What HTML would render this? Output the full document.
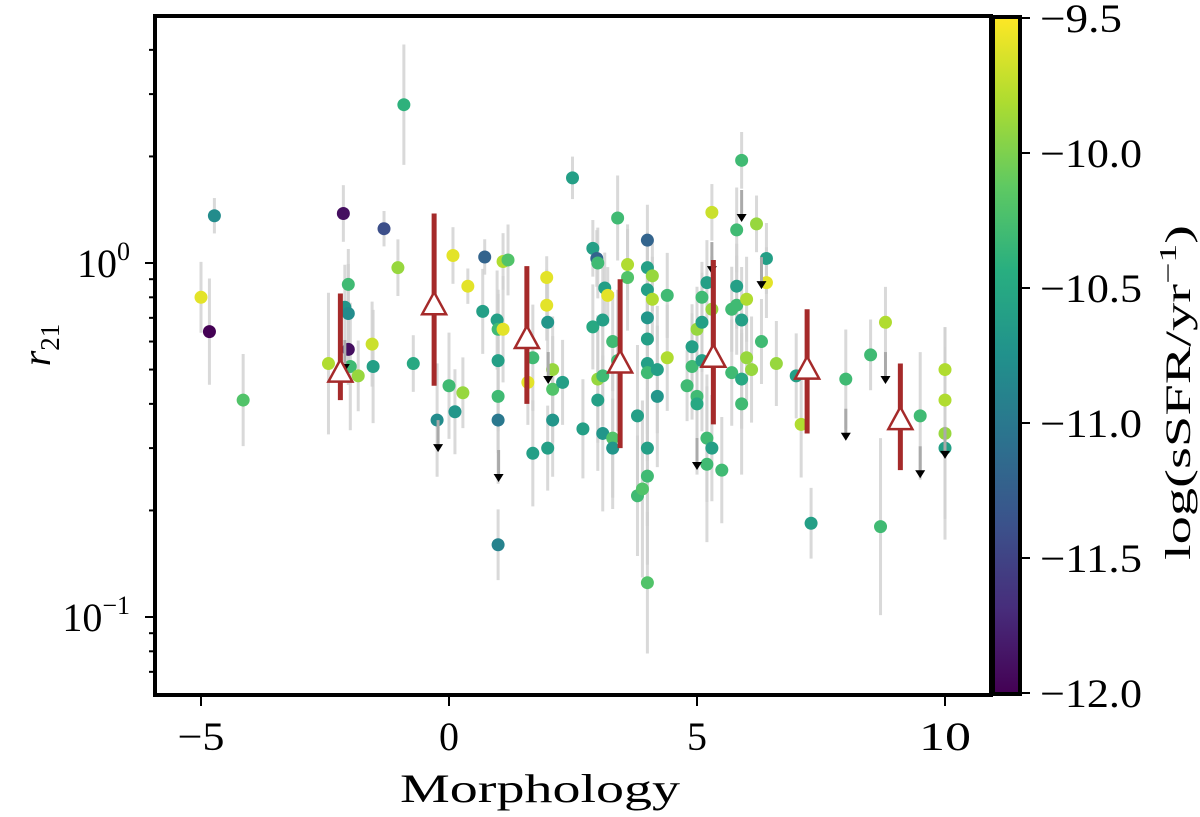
<!DOCTYPE html>
<html><head><meta charset="utf-8"><style>
html,body{margin:0;padding:0;background:#fff;}
svg text{font-family:"Liberation Serif","DejaVu Serif",serif;fill:#000;}
</style></head><body>
<svg id="chart" width="1200" height="812" viewBox="0 0 1200 812" xmlns="http://www.w3.org/2000/svg">
<defs>
<linearGradient id="vir" x1="0" y1="1" x2="0" y2="0">
<stop offset="0" stop-color="#440154"/><stop offset="0.125" stop-color="#472d7b"/><stop offset="0.25" stop-color="#3b528b"/><stop offset="0.375" stop-color="#2c728e"/><stop offset="0.5" stop-color="#21918c"/><stop offset="0.625" stop-color="#28ae80"/><stop offset="0.75" stop-color="#5ec962"/><stop offset="0.875" stop-color="#addc30"/><stop offset="1" stop-color="#fde725"/>
</linearGradient>
</defs>
<g id="errs"></g>
<g id="pts"></g>
<g id="lims"></g>
<g id="bins"></g>
<rect x="155" y="16" width="836" height="679" fill="none" stroke="#000" stroke-width="4"/>
<g id="axes"></g>
<rect x="993" y="18" width="27" height="675" fill="url(#vir)"/>
<rect x="993" y="17" width="27" height="677" fill="none" stroke="#000" stroke-width="4"/>
<g id="cbar"></g>
<text x="400" y="802" font-size="40" textLength="280" lengthAdjust="spacingAndGlyphs">Morphology</text>
<text transform="translate(50,345) rotate(-90)" font-size="40" text-anchor="middle"><tspan font-style="italic">r</tspan><tspan font-size="27" dy="9">21</tspan></text>
<text transform="translate(1190,560) rotate(-90)" font-size="36" textLength="335" lengthAdjust="spacingAndGlyphs">log(sSFR/yr<tspan font-size="24" dy="-14">−1</tspan><tspan dy="14">)</tspan></text>
</svg>
<script>
const xs=[-5.0,-4.83,-4.73,-4.15,-2.43,-2.13,-2.1,-2.03,-2.03,-2.03,-1.99,-1.83,-1.55,-1.53,-1.31,-1.03,-0.91,-0.72,-0.24,0,0.08,0.12,0.28,0.38,0.68,0.72,0.97,0.99,0.99,0.99,0.99,0.99,1.09,1.19,1.09,1.59,1.69,1.69,1.97,1.97,1.99,1.99,2.09,2.09,2.09,2.29,2.49,2.7,2.9,2.98,2.9,3.0,3.0,3.0,3.1,3.1,3.14,3.2,3.1,3.3,3.3,3.3,3.4,3.4,3.6,3.6,3.8,3.8,3.9,4.0,4.0,4.0,4.0,4.0,4.0,4.0,4.0,4.0,4.0,4.1,4.1,4.2,4.2,4.4,4.4,4.8,4.9,4.9,5.0,5.0,5.0,5.1,5.1,5.1,5.2,5.2,5.2,5.3,5.3,5.3,5.5,5.7,5.7,5.8,5.8,5.8,5.9,5.9,5.9,5.9,6.0,6.0,6.1,6.2,6.3,6.4,6.4,6.6,7.0,7.1,7.3,8.0,8.5,8.7,8.8,9.5,10.0,10.0,10.0,10.0];
const r21=[0.80,0.64,1.36,0.41,0.52,1.38,0.75,0.87,0.72,0.57,0.51,0.48,0.59,0.51,1.25,0.97,2.8,0.52,0.36,0.45,1.05,0.38,0.43,0.86,0.73,1.04,0.69,0.65,0.53,0.42,0.36,0.16,1.01,1.02,0.65,0.46,0.29,0.54,0.91,0.76,0.30,0.68,0.50,0.44,0.36,0.46,1.74,0.34,1.1,1.03,0.66,1.0,0.41,0.47,0.33,0.48,0.85,0.81,0.69,0.6,0.32,0.30,1.34,0.53,0.99,0.91,0.37,0.22,0.23,1.16,0.97,0.84,0.70,0.61,0.52,0.49,0.30,0.25,0.125,0.92,0.79,0.50,0.42,0.81,0.54,0.45,0.58,0.51,0.65,0.42,0.40,0.68,0.80,0.53,0.88,0.32,0.27,1.39,0.30,0.74,0.26,0.49,0.74,1.24,0.86,0.76,1.95,0.69,0.47,0.40,0.54,0.79,0.50,1.29,0.60,1.03,0.88,0.52,0.48,0.35,0.184,0.47,0.55,0.18,0.68,0.37,0.50,0.41,0.33,0.30];
const ssfr=[-9.6,-12,-10.8,-10.2,-9.8,-11.9,-10.7,-10.3,-10.8,-11.9,-10.3,-9.9,-9.7,-10.6,-11.4,-9.9,-10.4,-10.5,-10.8,-10.3,-9.6,-10.7,-9.9,-9.6,-10.6,-11.2,-10.6,-10.3,-10.6,-10.3,-11.0,-10.9,-9.8,-10.2,-9.6,-9.6,-10.6,-10.3,-9.6,-9.6,-10.6,-10.7,-9.9,-10.2,-10.7,-10.6,-10.6,-10.6,-10.6,-11.2,-10.5,-10.3,-10.6,-9.9,-10.7,-10.3,-10.6,-9.6,-10.6,-10.3,-10.2,-10.7,-10.3,-10.3,-9.8,-10.2,-10.6,-10.3,-10.2,-11.2,-10.6,-10.6,-10.7,-10.6,-10.6,-10.3,-10.6,-10.3,-10.2,-9.9,-9.8,-10.6,-10.7,-10.3,-9.8,-10.3,-10.6,-10.3,-9.9,-10.3,-10.5,-10.6,-10.3,-10.6,-10.6,-10.3,-10.3,-9.7,-10.6,-9.9,-10.3,-10.3,-10.3,-10.3,-10.6,-10.3,-10.3,-10.6,-10.5,-10.3,-9.9,-9.8,-9.9,-9.9,-10.3,-10.6,-9.6,-9.9,-10.6,-9.8,-10.6,-10.3,-10.3,-10.3,-9.8,-10.3,-9.8,-9.8,-9.9,-10.6];
const errDex=[0.1,0.15,0.05,0.13,0.2,0.08,0.12,0.1,0.14,0.1,0.18,0.1,0.12,0.16,0.05,0.08,0.17,0.08,0.16,0.15,0.08,0.12,0.1,0.05,0.12,0.05,0.14,0.1,0.2,0.16,0.18,0.1,0.08,0.1,0.15,0.12,0.15,0.15,0.06,0.1,0.12,0.14,0.15,0.15,0.16,0.12,0.06,0.14,0.08,0.08,0.12,0.1,0.2,0.18,0.22,0.14,0.1,0.08,0.15,0.14,0.2,0.14,0.12,0.2,0.1,0.15,0.2,0.17,0.25,0.1,0.1,0.12,0.15,0.12,0.2,0.25,0.22,0.25,0.2,0.1,0.12,0.18,0.2,0.12,0.15,0.1,0.12,0.15,0.12,0.17,0.2,0.14,0.1,0.2,0.12,0.18,0.22,0.08,0.15,0.15,0.15,0.15,0.12,0.12,0.12,0.14,0.08,0.15,0.14,0.2,0.12,0.12,0.15,0.08,0.12,0.1,0.1,0.12,0.12,0.15,0.1,0.14,0.1,0.25,0.1,0.18,0.12,0.15,0.3,0.2];
const limX=[-2.1,-0.22,1.0,2.0,5.0,5.3,5.9,6.3,8.0,8.8,9.5,10.0];
const limR=[0.505,0.30,0.247,0.467,0.267,0.955,1.34,0.866,0.323,0.467,0.253,0.287];
const binX=[-2.19,-0.3,1.57,3.45,5.33,7.22,9.1];
const binR=[0.49,0.76,0.61,0.52,0.54,0.50,0.36];
const binHi=[0.82,1.38,0.98,0.90,1.02,0.74,0.52];
const binLo=[0.41,0.45,0.40,0.30,0.35,0.33,0.26];
const xTicks=[-5,0,5,10];
const xTickLabels=["−5","0","5","10"];
const cbTicks=[-9.5,-10,-10.5,-11,-11.5,-12];
const cbTickLabels=["−9.5","−10.0","−10.5","−11.0","−11.5","−12.0"];

const NS="http://www.w3.org/2000/svg";
const X=v=>449+49.6*v;
const Y=r=>263-354*Math.log10(r);
const CB=v=>18+(-9.5-v)/2.5*675;
const vir=[[68,1,84],[71,45,123],[59,82,139],[44,114,142],[33,145,140],[40,174,128],[94,201,98],[173,220,48],[253,231,37]];
function col(s){let t=Math.max(0,Math.min(1,(s+12)/2.5))*8;let i=Math.min(7,Math.floor(t)),f=t-i;const a=vir[i],b=vir[i+1];return `rgb(${a.map((c,k)=>Math.round(c+(b[k]-c)*f)).join(',')})`;}
function mk(tag,attrs,parent){const e=document.createElementNS(NS,tag);for(const k in attrs)e.setAttribute(k,attrs[k]);parent.appendChild(e);return e;}
const gE=document.getElementById('errs'),gP=document.getElementById('pts'),gL=document.getElementById('lims'),gB=document.getElementById('bins'),gA=document.getElementById('axes'),gC=document.getElementById('cbar');
xs.forEach((x,i)=>{
  const d=errDex[i],r=r21[i];
  const l=mk('line',{x1:X(x),x2:X(x),y1:Y(r*Math.pow(10,d)),y2:Y(r/Math.pow(10,d)),stroke:'#d0d0d0','stroke-width':3,'stroke-opacity':0.8},gE);
  
  
});
xs.forEach((x,i)=>{
  const c=mk('circle',{cx:X(x),cy:Y(r21[i]),r:6.5,fill:col(ssfr[i])},gP);
  
  
});
limX.forEach((x,i)=>{
  const cx=X(x),cy=Y(limR[i]);
  mk('line',{x1:cx,x2:cx,y1:cy-28,y2:cy,stroke:'#aaa','stroke-width':3},gL);
  const p=mk('polygon',{points:`${cx-5},${cy-4} ${cx+5},${cy-4} ${cx},${cy+4}`,fill:'#000'},gL);
  
  
});
binX.forEach((x,i)=>{
  const cx=X(x),cy=Y(binR[i]);
  const l=mk('line',{x1:cx,x2:cx,y1:Y(binHi[i]),y2:Y(binLo[i]),stroke:'#a52a2a','stroke-width':5},gB);
  
  
  const p=mk('polygon',{points:`${cx},${cy-13} ${cx+12},${cy+9} ${cx-12},${cy+9}`,fill:'#fff',stroke:'#a52a2a','stroke-width':2.5},gB);
  
  
});
const xLens=[47,0,0,52];
xTicks.forEach((v,i)=>{
  mk('line',{x1:X(v),x2:X(v),y1:697,y2:706,stroke:'#000','stroke-width':2},gA);
  const t=mk('text',{x:X(v),y:750,'font-size':40,'text-anchor':'middle'},gA);t.textContent=xTickLabels[i];
  if(xLens[i]){t.setAttribute('textLength',xLens[i]);t.setAttribute('lengthAdjust','spacingAndGlyphs');}
  
  
});
for(let e=-2;e<=1;e++)for(let m=1;m<10;m++){const v=m*Math.pow(10,e);const y=Y(v);if(y<16||y>695)continue;
  mk('line',{x1:m==1?145:149,x2:155,y1:y,y2:y,stroke:'#000','stroke-width':2},gA);}
[[0,'0'],[-1,'−1']].forEach(([e,s])=>{
  const t=mk('text',{x:130,y:Y(Math.pow(10,e))+14,'font-size':40,'text-anchor':'end'},gA);
  t.innerHTML=`10<tspan font-size="26" dy="-17">${s}</tspan>`;
  
  
});
cbTicks.forEach((v,i)=>{
  mk('line',{x1:1020,x2:1030,y1:CB(v),y2:CB(v),stroke:'#000','stroke-width':2},gC);
  const t=mk('text',{x:1040,y:CB(v)+14,'font-size':40,textLength:(i==0?82:102),lengthAdjust:'spacingAndGlyphs'},gC);t.textContent=cbTickLabels[i];
  
  
});
</script>
</body></html>
